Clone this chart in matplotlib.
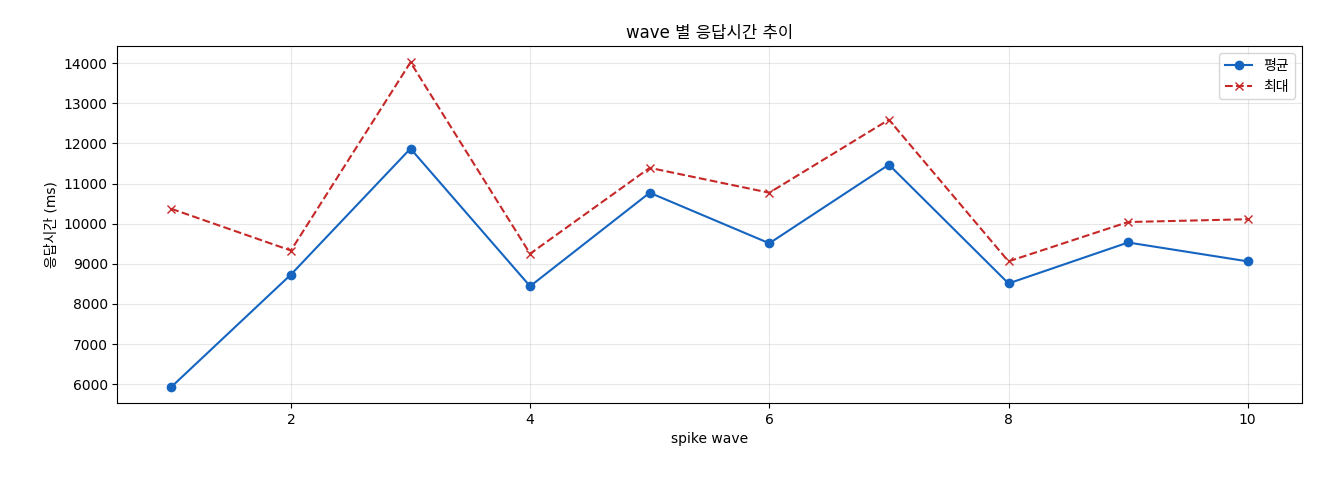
import matplotlib
matplotlib.use("Agg")
import matplotlib.pyplot as plt

plt.rcParams['font.family'] = ['DejaVu Sans', 'Noto Sans CJK KR']

# spike wave 별 응답시간 (ms)
waves = [1, 2, 3, 4, 5, 6, 7, 8, 9, 10]
avg_ms = [5930, 8730, 11870, 8440, 10770, 9510, 11470, 8510, 9530, 9060]
max_ms = [10370, 9330, 14020, 9250, 11390, 10770, 12590, 9060, 10040, 10110]

fig, ax = plt.subplots(figsize=(13.2, 4.8), dpi=100)
ax.plot(waves, avg_ms, marker='o', color='#1565C0', label='평균')
ax.plot(waves, max_ms, marker='x', linestyle='--', color='#C62828', label='최대')

ax.set_title('wave 별 응답시간 추이')
ax.set_xlabel('spike wave')
ax.set_ylabel('응답시간 (ms)')
ax.grid(True, alpha=0.3)
ax.legend(loc='upper right')

plt.subplots_adjust(left=0.089, right=0.986, top=0.904, bottom=0.16)
plt.savefig('out.png')
